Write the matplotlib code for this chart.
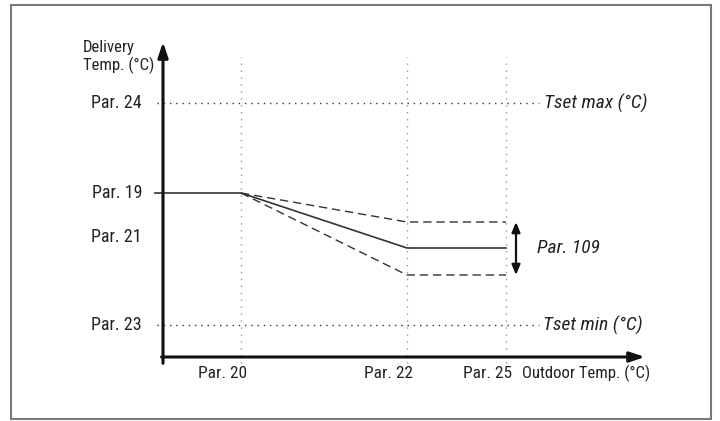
import matplotlib
matplotlib.use("Agg")
import matplotlib.pyplot as plt
from matplotlib.patches import Rectangle
from matplotlib import font_manager

# ---- data (schematic units) ----
x_labels = ["Par. 20", "Par. 22", "Par. 25"]
x_pos = [7.8, 24.4, 34.3]                      # Par.20, Par.22, Par.25
y_labels = ["Par. 24", "Par. 19", "Par. 21", "Par. 23"]
y_label_pos = [25.4, 16.4, 12.0, 3.2]
tset_max = 25.4
tset_min = 3.2
curve_x = [-0.8, 7.8, 24.4, 34.3]
curve_y = [16.4, 16.4, 10.9, 10.9]
upper_x = [7.8, 24.4, 34.3]
upper_y = [16.4, 13.5, 13.5]
lower_x = [7.8, 24.4, 34.3]
lower_y = [16.4, 8.2, 8.2]
band_x = 35.3
xlim = (0, 48.2)
ylim = (0, 31.5)

names = {f.name for f in font_manager.fontManager.ttflist}
fam = [f for f in ["Liberation Sans Narrow", "Roboto Condensed", "Liberation Sans", "DejaVu Sans"] if f in names]
plt.rcParams["font.family"] = fam

W, H = 720, 421
fig = plt.figure(figsize=(7.2, 4.21), dpi=100)
fig.patches.append(Rectangle((11 / W, 2 / H), 700 / W, 414 / H, transform=fig.transFigure,
                             fill=False, edgecolor="#7a7a7a", linewidth=1.5))

ax = fig.add_axes([163 / W, (H - 357) / H, (645 - 163) / W, (357 - 42) / H])
ax.set_xlim(*xlim)
ax.set_ylim(*ylim)
ax.axis("off")

txt = "#222222"
fs_y = 13
fs_x = 12.5
fs_i = 14

# axes arrows
ax.annotate("", xy=(1, 0), xytext=(-0.003, 0), xycoords="axes fraction",
            arrowprops=dict(arrowstyle="-|>,head_length=0.9,head_width=0.3", lw=2.2, color="#111111",
                            shrinkA=0, shrinkB=0))
ax.annotate("", xy=(0, 1), xytext=(0, -0.02), xycoords="axes fraction",
            arrowprops=dict(arrowstyle="-|>,head_length=0.9,head_width=0.3", lw=2.2, color="#111111",
                            shrinkA=0, shrinkB=0))

# vertical dotted guides
for xp in x_pos:
    ax.plot([xp, xp], [-0.6, 30.0], linestyle=(0, (1, 4)), color="#999999", lw=1.0, clip_on=False)

# horizontal dotted guides (Tset max / min)
ax.plot([-0.6, 37.6], [tset_max, tset_max], linestyle=(0, (1, 3.5)), color="#333333", lw=1.0, clip_on=False)
ax.plot([-0.6, 37.6], [tset_min, tset_min], linestyle=(0, (1, 3.5)), color="#333333", lw=1.0, clip_on=False)

# curves
ax.plot(curve_x, curve_y, color="#333333", lw=1.2, clip_on=False)
ax.plot(upper_x, upper_y, color="#333333", lw=1.0, dashes=(6, 3.5))
ax.plot(lower_x, lower_y, color="#333333", lw=1.0, dashes=(6, 3.5))

# band double arrow
ax.annotate("", xy=(band_x, upper_y[-1]), xytext=(band_x, lower_y[-1]),
            arrowprops=dict(arrowstyle="<|-|>,head_length=0.6,head_width=0.25", lw=1.6, color="#111111",
                            shrinkA=0, shrinkB=0))
ax.text(37.4, curve_y[-1], "Par. 109", style="italic", fontsize=fs_i, color=txt, ha="left", va="center")

# right labels
ax.text(48.4, tset_max, "Tset max (°C)", style="italic", fontsize=fs_i, color=txt, ha="right", va="center")
ax.text(48.0, tset_min, "Tset min (°C)", style="italic", fontsize=fs_i, color=txt, ha="right", va="center")

# y labels
for lab, yp in zip(y_labels, y_label_pos):
    ax.text(-2.1, yp, lab, fontsize=fs_y, color=txt, ha="right", va="center")
ax.text(-8.0, 30.0, "Delivery\nTemp. (°C)", fontsize=12, color=txt, ha="left", va="center",
        linespacing=1.1)

# x labels
for lab, xp in zip(x_labels, x_pos):
    ax.text(xp + 0.6, -1.6, lab, fontsize=fs_x, color=txt, ha="right", va="center")
ax.text(35.9, -1.6, "Outdoor Temp. (°C)", fontsize=12, color=txt, ha="left", va="center")

fig.savefig("out.png", dpi=100)
